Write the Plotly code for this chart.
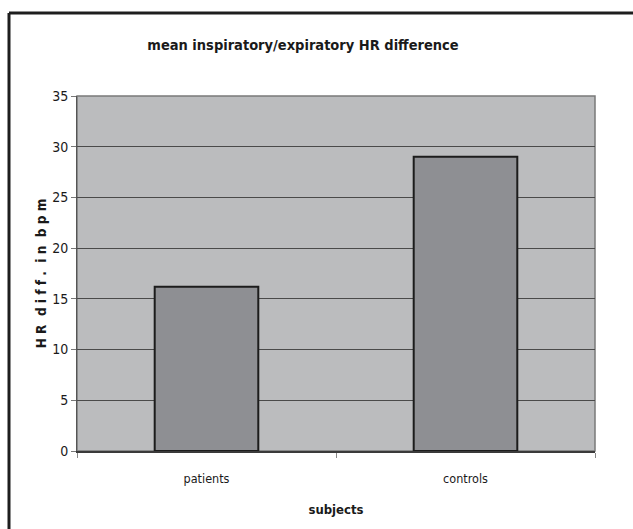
import plotly.graph_objects as go

# Mean inspiratory/expiratory heart-rate difference per group
categories = ["patients", "controls"]
hr_diff = [16.2, 29.0]
y_ticks = [0, 5, 10, 15, 20, 25, 30, 35]

W, H = 633, 529
L, R, T, B = 77, 38, 96, 78
pw, ph = W - L - R, H - T - B

FONT = "DejaVu Sans Condensed, Liberation Sans Narrow, Arial Narrow, sans-serif"


def px_to_paper(x, y):
    return (x - L) / pw, (H - B - y) / ph


fig = go.Figure()
fig.add_trace(go.Bar(
    x=categories,
    y=hr_diff,
    width=0.4,
    marker=dict(color="#8e8f93", line=dict(color="#1c1c1c", width=2)),
))

# outer frame (top and left edges of the chart box)
x0, y0 = px_to_paper(9, 13)
x1, y1 = px_to_paper(640, 540)
fig.add_shape(type="line", xref="paper", yref="paper", x0=x0, y0=y0, x1=x1, y1=y0,
              line=dict(color="#1e1e1e", width=3))
fig.add_shape(type="line", xref="paper", yref="paper", x0=x0, y0=y0, x1=x0, y1=y1,
              line=dict(color="#1e1e1e", width=3))
# plot area frame
fig.add_shape(type="rect", xref="paper", yref="paper", x0=0, y0=0, x1=1, y1=1,
              line=dict(color="#7a7a7a", width=1.5), layer="below")

fig.update_layout(
    width=W, height=H,
    margin=dict(l=L, r=R, t=T, b=B),
    paper_bgcolor="white",
    plot_bgcolor="#bbbcbe",
    showlegend=False,
    font=dict(family=FONT, color="#1a1a1a", size=13),
    title=dict(text="<b>mean inspiratory/expiratory HR difference</b>",
               x=303 / W, xanchor="center", y=1 - 45 / H, yanchor="middle",
               font=dict(size=14.5, family=FONT)),
    xaxis=dict(
        type="category",
        range=[-0.5, 1.5],
        showgrid=False,
        ticks="outside", tickson="boundaries", ticklen=5, tickcolor="#888",
        showline=True, linecolor="#3a3a3a", linewidth=1.5,
        tickfont=dict(size=12.5, family=FONT),
        ticklabelstandoff=15,
        title=dict(text="<b>subjects</b>", font=dict(size=13, family=FONT), standoff=20),
    ),
    yaxis=dict(
        range=[0, 35],
        tickvals=y_ticks,
        showgrid=True, gridcolor="#4a4a4a", gridwidth=1,
        ticks="outside", ticklen=5, tickcolor="#777",
        showline=True, linecolor="#555", linewidth=1,
        zeroline=False,
        tickfont=dict(size=14, family=FONT),
        title=dict(text="<b>H R  d i f f .  i n  b p m</b>",
                   font=dict(size=13.5, family=FONT), standoff=2),
    ),
)

fig.write_html("out.html")
